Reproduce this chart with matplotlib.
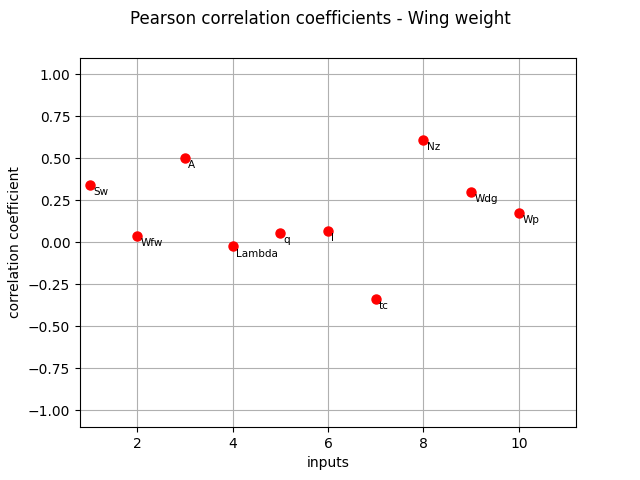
import matplotlib
matplotlib.use('Agg')
import matplotlib.pyplot as plt

# Pearson correlation of each input with the wing weight output
inputs = [1, 2, 3, 4, 5, 6, 7, 8, 9, 10]
names = ['Sw', 'Wfw', 'A', 'Lambda', 'q', 'l', 'tc', 'Nz', 'Wdg', 'Wp']
coefficients = [0.34, 0.036, 0.50, -0.024, 0.054, 0.066, -0.335, 0.61, 0.30, 0.173]

fig, ax = plt.subplots(figsize=(6.4, 4.8), dpi=100)
fig.suptitle('Pearson correlation coefficients - Wing weight')

ax.plot(inputs, coefficients, 'o', color='red', markersize=6.5, linestyle='none')
for x, y, name in zip(inputs, coefficients, names):
    ax.annotate(name, (x, y), xytext=(2.5, -1.5), textcoords='offset points',
                ha='left', va='top', fontsize=7.5)

ax.set_xlim(0.8, 11.2)
ax.set_ylim(-1.1, 1.1)
ax.set_xlabel('inputs')
ax.set_ylabel('correlation coefficient')
ax.grid(True)

fig.savefig('out.png')
